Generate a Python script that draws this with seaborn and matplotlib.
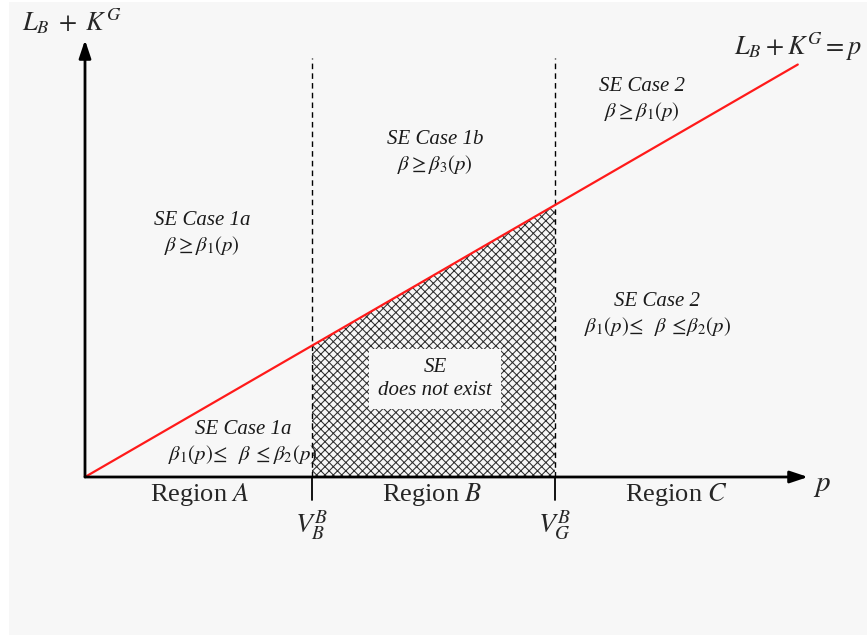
import numpy as np
import matplotlib
matplotlib.use("Agg")
import matplotlib.pyplot as plt
import seaborn as sns
from matplotlib.patches import Rectangle

# --- diagram data (conceptual units) ---
v_b = 1.0          # V_B^B threshold on the p axis
v_g = 2.07         # V_G^B threshold on the p axis
p_end = 3.14       # end of the L_B + K^G = p line
p_line = [0.0, p_end]
region_labels = ["Region $A$", "Region $B$", "Region $C$"]
threshold_labels = [r"$V_B^B$", r"$V_G^B$"]
case_labels = [
    "SE Case 1a\n" + r"$\beta \geq \beta_1(p)$",
    "SE Case 1b\n" + r"$\beta \geq \beta_3(p)$",
    "SE Case 2\n" + r"$\beta \geq \beta_1(p)$",
    "SE Case 2\n" + r"$\beta_1(p)\!\leq\;\; \beta\; \leq\!\beta_2(p)$",
    "SE Case 1a\n" + r"$\beta_1(p)\!\leq\;\; \beta\; \leq \beta_2(p)$",
]

# --- style ---
sns.set_theme(style="white")
plt.rcParams["font.family"] = ["Liberation Serif", "DejaVu Serif"]
plt.rcParams["mathtext.fontset"] = "stix"
plt.rcParams["hatch.linewidth"] = 0.75
plt.rcParams["hatch.color"] = "#2e2e2e"

W, H = 867, 635
ox, oy = 85, 477          # origin in pixels
sx, sy = 227.0, 131.36    # pixels per unit


def px(x, y):
    # pixel position -> data position (for text placement)
    return (x - ox) / sx, (oy - y) / sy


fig = plt.figure(figsize=(W / 100, H / 100), dpi=100, facecolor="white")
ax = fig.add_axes([0, 0, 1, 1])
ax.set_xlim((0 - ox) / sx, (W - ox) / sx)
ax.set_ylim((oy - H) / sy, oy / sy)
ax.axis("off")
ax.add_patch(Rectangle((9 / W, 0), 1 - 9 / W, 1 - 2 / H, transform=ax.transAxes,
                       facecolor="#f7f7f7", edgecolor="none", zorder=0))

# hatched "SE does not exist" region
ax.fill_between([v_b, v_g], [0, 0], [v_b, v_g], facecolor="none",
                edgecolor="#2e2e2e", hatch="xxxx", linewidth=0, zorder=1)

# red line L_B + K^G = p
sns.lineplot(x=p_line, y=p_line, ax=ax, color="#ff1a1a", linewidth=1.6, zorder=3)

# axes arrows
top_y = px(0, 40)[1]
right_x = px(808, 0)[0]
ax.annotate("", xy=(0, top_y), xytext=(0, 0),
            arrowprops=dict(arrowstyle="-|>,head_length=0.9,head_width=0.3",
                            color="black", lw=2, shrinkA=0, shrinkB=0), zorder=4)
ax.annotate("", xy=(right_x, 0), xytext=(0, 0),
            arrowprops=dict(arrowstyle="-|>,head_length=0.9,head_width=0.3",
                            color="black", lw=2, shrinkA=0, shrinkB=0), zorder=4)

# threshold lines
dash_top = px(0, 58)[1]
tick_bot = px(0, 500)[1]
for v, lab in zip([v_b, v_g], threshold_labels):
    ax.plot([v, v], [0, dash_top], color="black", lw=1.0, ls=(0, (4, 3)), zorder=2)
    ax.plot([v, v], [tick_bot, 0], color="black", lw=1.3, zorder=4)
    ax.text(v, px(0, 526)[1], lab, ha="center", va="center", fontsize=20)

# region labels
for (x, y), lab in zip([(200, 495), (432, 495), (676, 495)], region_labels):
    ax.text(*px(x, y), lab, ha="center", va="center", fontsize=19)

# case labels
for (x, y), lab in zip([(202, 234), (435, 153), (642, 100), (657, 315), (243, 443)],
                       case_labels):
    ax.text(*px(x, y), lab, ha="center", va="center", fontsize=15,
            fontstyle="italic", linespacing=1.25, color="#1a1a1a")

# SE does not exist box
ax.text(*px(435, 379), "SE\ndoes not exist", ha="center", va="center",
        fontsize=15, fontstyle="italic", linespacing=1.25, color="#1a1a1a",
        bbox=dict(boxstyle="square,pad=0.45", facecolor="#f7f7f7", edgecolor="none"),
        zorder=5)

# axis labels
ax.text(*px(72, 21), r"$L_B\;+\;K^G$", ha="center", va="center", fontsize=19)
ax.text(*px(862, 47), r"$L_B + K^G = p$", ha="right", va="center", fontsize=19)
ax.text(*px(822, 486), r"$p$", ha="center", va="center", fontsize=21)

fig.savefig("out.png", dpi=100, facecolor=fig.get_facecolor())
